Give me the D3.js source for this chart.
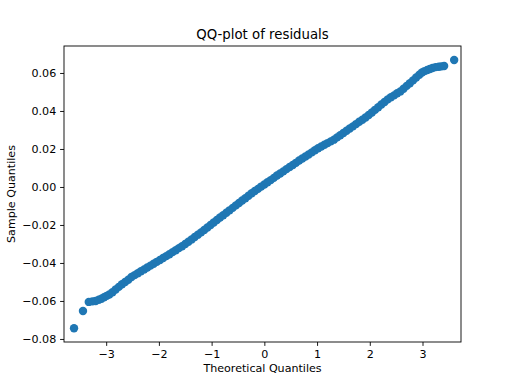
<!DOCTYPE html>
<html>
<head>
<meta charset="utf-8">
<script src="https://cdn.jsdelivr.net/npm/d3@7"></script>
<style>
  body { margin: 0; background: #fff; }
  text { font-family: "DejaVu Sans", sans-serif; fill: #000; }
</style>
</head>
<body>
<div id="chart"></div>
<script>
// theoretical quantiles (x) and sample quantiles (y)
var theoretical = [
  -3.61, -3.44, -3.33, -3.26, -3.20, -3.14, -3.09, -3.04, -2.99,
  -2.94, -2.88, -2.82, -2.76, -2.70, -2.64, -2.58, -2.52, -2.46, -2.40,
  -2.34, -2.28, -2.22, -2.16, -2.10, -2.04, -1.98, -1.92, -1.86, -1.80,
  -1.74, -1.68, -1.62, -1.56, -1.50, -1.44, -1.38, -1.32, -1.26, -1.20,
  -1.14, -1.08, -1.02, -0.96, -0.90, -0.84, -0.78, -0.72, -0.66, -0.60,
  -0.54, -0.48, -0.42, -0.36, -0.30, -0.24, -0.18, -0.12, -0.06, 0.00,
  0.06, 0.12, 0.18, 0.24, 0.30, 0.36, 0.42, 0.48, 0.54, 0.60,
  0.66, 0.72, 0.78, 0.84, 0.90, 0.96, 1.02, 1.08, 1.14, 1.20,
  1.26, 1.32, 1.38, 1.44, 1.50, 1.56, 1.62, 1.68, 1.74, 1.80,
  1.86, 1.92, 1.98, 2.04, 2.10, 2.16, 2.22, 2.28, 2.34, 2.40,
  2.46, 2.52, 2.58, 2.64, 2.70, 2.76, 2.82, 2.88, 2.94,
  2.99, 3.04, 3.09, 3.14, 3.19, 3.25, 3.31, 3.36, 3.41, 3.60
];
var sample = [
  -0.0744, -0.0653, -0.0605, -0.0602, -0.0600, -0.0594, -0.0588, -0.0580, -0.0573,
  -0.0566, -0.0554, -0.0540, -0.0526, -0.0512, -0.0500, -0.0488, -0.0474, -0.0464, -0.0454,
  -0.0444, -0.0434, -0.0424, -0.0414, -0.0404, -0.0394, -0.0384, -0.0374, -0.0364, -0.0354,
  -0.0343, -0.0333, -0.0322, -0.0312, -0.0300, -0.0288, -0.0276, -0.0263, -0.0251, -0.0239,
  -0.0226, -0.0213, -0.0200, -0.0187, -0.0174, -0.0161, -0.0149, -0.0136, -0.0123, -0.0110,
  -0.0097, -0.0084, -0.0071, -0.0059, -0.0046, -0.0033, -0.0021, -0.0010, 0.0002, 0.0013,
  0.0025, 0.0036, 0.0048, 0.0060, 0.0071, 0.0082, 0.0094, 0.0105, 0.0116, 0.0127,
  0.0139, 0.0150, 0.0160, 0.0171, 0.0182, 0.0193, 0.0204, 0.0213, 0.0222, 0.0231,
  0.0240, 0.0249, 0.0261, 0.0272, 0.0284, 0.0296, 0.0308, 0.0319, 0.0331, 0.0343,
  0.0354, 0.0366, 0.0379, 0.0392, 0.0406, 0.0420, 0.0434, 0.0447, 0.0461, 0.0472,
  0.0482, 0.0493, 0.0503, 0.0517, 0.0532, 0.0546, 0.0561, 0.0576, 0.0591,
  0.0603, 0.0610, 0.0616, 0.0621, 0.0626, 0.0631, 0.0633, 0.0635, 0.0637, 0.0668
];
var xTicks = [-3, -2, -1, 0, 1, 2, 3];
var yTicks = [-0.08, -0.06, -0.04, -0.02, 0.00, 0.02, 0.04, 0.06];

var W = 512, H = 384;
var margin = { left: 64, right: 51, top: 46, bottom: 42 };
var width = W - margin.left - margin.right,
    height = H - margin.top - margin.bottom;

var svg = d3.select("#chart").append("svg")
    .attr("width", W)
    .attr("height", H);

var g = svg.append("g")
    .attr("transform", "translate(" + margin.left + "," + margin.top + ")");

// Scales
var x = d3.scaleLinear().domain([-3.80, 3.73]).range([0, width]);
var y = d3.scaleLinear().domain([-0.0816, 0.0742]).range([height, 0]);

var minus = function(s) { return s.replace("-", "\u2212"); };

// points
var pts = theoretical.map(function(t, i) { return { t: t, s: sample[i] }; });
g.append("g").selectAll("circle")
    .data(pts)
    .enter().append("circle")
    .attr("cx", function(d) { return x(d.t); })
    .attr("cy", function(d) { return y(d.s); })
    .attr("r", 4.2)
    .attr("fill", "#1f77b4");

// Axes
var xAxis = d3.axisBottom(x)
    .tickValues(xTicks)
    .tickSize(3.9)
    .tickPadding(3.9)
    .tickFormat(function(d) { return minus(d3.format("d")(d)); });
var gx = g.append("g")
    .attr("transform", "translate(0," + height + ")")
    .call(xAxis);

var yAxis = d3.axisLeft(y)
    .tickValues(yTicks)
    .tickSize(3.9)
    .tickPadding(3.9)
    .tickFormat(function(d) { return minus(d3.format(".2f")(d)); });
var gy = g.append("g").call(yAxis);

[gx, gy].forEach(function(a) {
    a.select(".domain").remove();
    a.selectAll(".tick line").attr("stroke", "#000").attr("stroke-width", 0.9);
    a.selectAll(".tick text")
        .attr("font-size", "11.1px")
        .attr("font-family", "DejaVu Sans, sans-serif")
        .attr("fill", "#000");
});

// frame
g.append("rect")
    .attr("width", width)
    .attr("height", height)
    .attr("fill", "none")
    .attr("stroke", "#000")
    .attr("stroke-width", 0.9);

// Labels
g.append("text")
    .attr("x", width / 2)
    .attr("y", -7)
    .attr("text-anchor", "middle")
    .attr("font-size", "13.3px")
    .text("QQ-plot of residuals");

g.append("text")
    .attr("x", width / 2)
    .attr("y", height + 30)
    .attr("text-anchor", "middle")
    .attr("font-size", "11.1px")
    .text("Theoretical Quantiles");

g.append("text")
    .attr("transform", "rotate(-90)")
    .attr("x", -height / 2)
    .attr("y", -49)
    .attr("text-anchor", "middle")
    .attr("font-size", "11.1px")
    .text("Sample Quantiles");
</script>
</body>
</html>
